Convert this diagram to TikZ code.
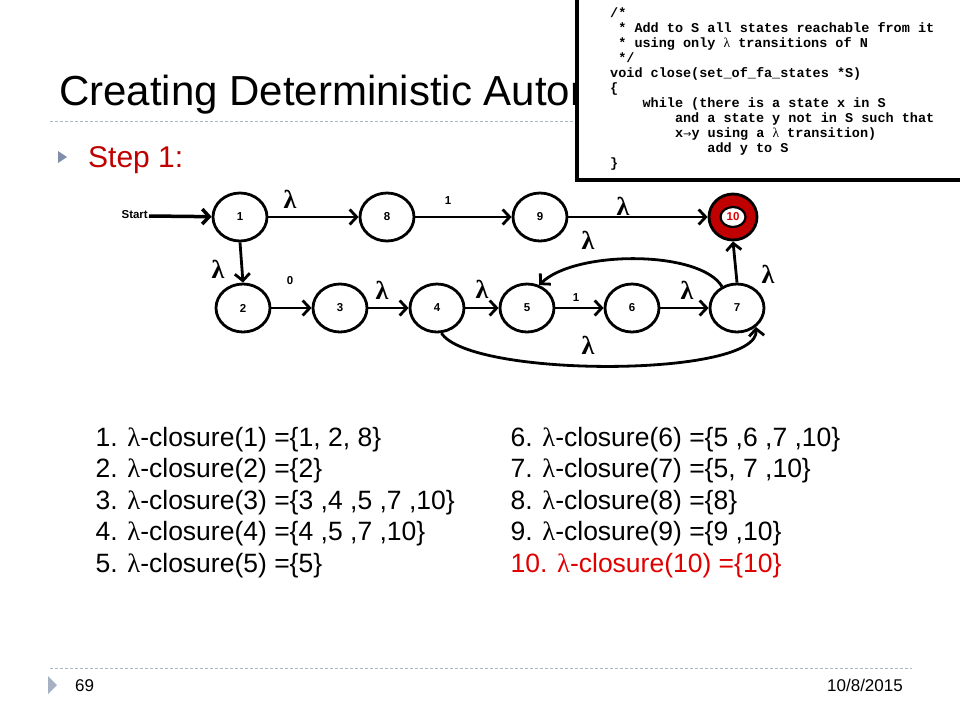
\documentclass[tikz,border=0pt]{standalone}
\usepackage{fontspec}
\setmainfont{Liberation Sans}
\newfontfamily\lamfont{Liberation Serif}
\newfontfamily\codefont{Liberation Mono}
\usetikzlibrary{arrows.meta,shapes.geometric}
\definecolor{slred}{HTML}{C00000}
\definecolor{brightred}{HTML}{E00000}
\definecolor{dashgray}{HTML}{A9B8C8}
\definecolor{tri}{HTML}{7F8FA9}
\newcommand{\lm}{{\lamfont λ}}
\begin{document}
\begin{tikzpicture}[x=1pt,y=-1pt,
  state/.style={ellipse,draw,line width=2.8pt,minimum width=54pt,minimum height=48pt,inner sep=0pt,font=\fontsize{11.5}{12}\selectfont\bfseries},
  edge/.style={line width=2.8pt,-{Straight Barb[length=7pt,width=15pt]}},
  lab/.style={font=\fontsize{26}{28}\lamfont\bfseries},
  sym/.style={font=\fontsize{11.5}{12}\selectfont\bfseries},
  cl/.style={anchor=base west,font=\fontsize{26.5}{28}\selectfont},
  code/.style={anchor=base west,font=\fontsize{13.5}{15}\codefont\bfseries,inner sep=0pt}]
\useasboundingbox (0,0) rectangle (960,720);
\fill[white] (0,0) rectangle (960,720);
% title
\node[anchor=base west,inner sep=0pt,font=\fontsize{42}{46}\selectfont] (title) at (59,105) {Creating Deterministic Automata};
\draw[dashgray,line width=1pt,dash pattern=on 3pt off 2pt] (50,121) -- (577,121);
\fill[tri] (58,151) -- (67,157) -- (58,163) -- cycle;
\node[anchor=base west,inner sep=0pt,text=slred,font=\fontsize{30}{32}\selectfont] (step) at (88,167) {Step 1:};
% code box
\draw[line width=4pt,fill=white] (577,-5) rectangle (966,180);
\node[code] (c1) at (610,17) {/*};
\node[code] (c2) at (610,32) {\ * Add to S all states reachable from it};
\node[code] (c3) at (610,47) {\ * using only {\lamfont\mdseries λ} transitions of N};
\node[code] (c4) at (610,62) {\ */};
\node[code] (c5) at (610,77) {void close(set\_of\_fa\_states *S)};
\node[code] (c6) at (610,92) {\{};
\node[code] (c7) at (610,107) {\ \ \ \ while (there is a state x in S};
\node[code] (c8) at (610,122) {\ \ \ \ \ \ \ \ and a state y not in S such that};
\node[code] (c9) at (610,137) {\ \ \ \ \ \ \ \ x{\fontspec{DejaVu Sans}\mdseries\fontsize{10}{12}\selectfont→}y using a {\lamfont\mdseries λ} transition)};
\node[code] (c10) at (610,152) {\ \ \ \ \ \ \ \ \ \ \ \ add y to S};
\node[code] (c11) at (610,167) {\}};
% states
\node[state] (n1) at (240,217) {1};
\node[state] (n8) at (387,217) {8};
\node[state] (n9) at (540,217) {9};
\node[ellipse,draw,line width=2.8pt,fill=slred,minimum width=48pt,minimum height=46pt,inner sep=0pt] (n10) at (733,217) {};
\node[ellipse,draw,line width=2.2pt,fill=white,minimum width=25pt,minimum height=20pt,inner sep=0pt,text=brightred,font=\fontsize{11.5}{12}\selectfont\bfseries] (n10i) at (733,217) {10};
\node[state] (n2) at (243,308) {2};
\node[state] (n3) at (340,308) {3};
\node[state] (n4) at (437,308) {4};
\node[state] (n5) at (527,308) {5};
\node[state] (n6) at (632,308) {6};
\node[state] (n7) at (737,308) {7};
\node[sym,anchor=east,inner sep=0pt] (start) at (148,215) {Start};
\coordinate (s0) at (149,216);
% edges
\draw[edge,line width=3.5pt] (s0) -- (n1);
\draw[edge] (n1) -- (n8);
\draw[edge] (n8) -- (n9);
\draw[edge] (n9) -- (n10);
\draw[edge] (n1.south) -- (n2.north);
\draw[edge] (n2) -- (n3);
\draw[edge] (n3) -- (n4);
\draw[edge] (n4) -- (n5);
\draw[edge] (n5) -- (n6);
\draw[edge] (n6) -- (n7);
\draw[edge] (n7.north) -- (n10.south);
\draw[edge] (n7.125) .. controls (700,250) and (575,250) .. (n5.62);
\draw[edge] (n4.-80) .. controls (470,378) and (760,378) .. (n7.-45);
% labels
\node[lab] (l18) at (290,199) {λ};
\node[sym] (l89) at (448,201) {1};
\node[lab] (l910) at (623,206) {λ};
\node[lab] (l75) at (588,240) {λ};
\node[lab] (l710) at (768,274) {λ};
\node[lab] (l12) at (218,269) {λ};
\node[sym] (l23) at (290,281) {0};
\node[lab] (l34) at (382,290) {λ};
\node[lab] (l45) at (482,289) {λ};
\node[sym] (l56) at (576,298) {1};
\node[lab] (l67) at (687,290) {λ};
\node[lab] (l47) at (588,345) {λ};
% closures
\node[cl] (a1) at (92,446) {1. \lm-closure(1) =\{1, 2, 8\}};
\node[cl] (a2) at (92,477.5) {2. \lm-closure(2) =\{2\}};
\node[cl] (a3) at (92,509) {3. \lm-closure(3) =\{3 ,4 ,5 ,7 ,10\}};
\node[cl] (a4) at (92,540.5) {4. \lm-closure(4) =\{4 ,5 ,7 ,10\}};
\node[cl] (a5) at (92,572) {5. \lm-closure(5) =\{5\}};
\node[cl] (b1) at (507,446) {6. \lm-closure(6) =\{5 ,6 ,7 ,10\}};
\node[cl] (b2) at (507,477.5) {7. \lm-closure(7) =\{5, 7 ,10\}};
\node[cl] (b3) at (507,509) {8. \lm-closure(8) =\{8\}};
\node[cl] (b4) at (507,540.5) {9. \lm-closure(9) =\{9 ,10\}};
\node[cl,text=brightred] (b5) at (507,572) {10. \lm-closure(10) =\{10\}};
% footer
\draw[dashgray,line width=1pt,dash pattern=on 3pt off 2pt] (50,668) -- (912,668);
\fill[tri!70] (48,676) -- (57,685) -- (48,694) -- cycle;
\node[anchor=base west,inner sep=0pt,font=\fontsize{17}{18}\selectfont] (pg) at (75,691) {69};
\node[anchor=base east,inner sep=0pt,font=\fontsize{17}{18}\selectfont] (dt) at (903,691) {10/8/2015};
\end{tikzpicture}
\end{document}
